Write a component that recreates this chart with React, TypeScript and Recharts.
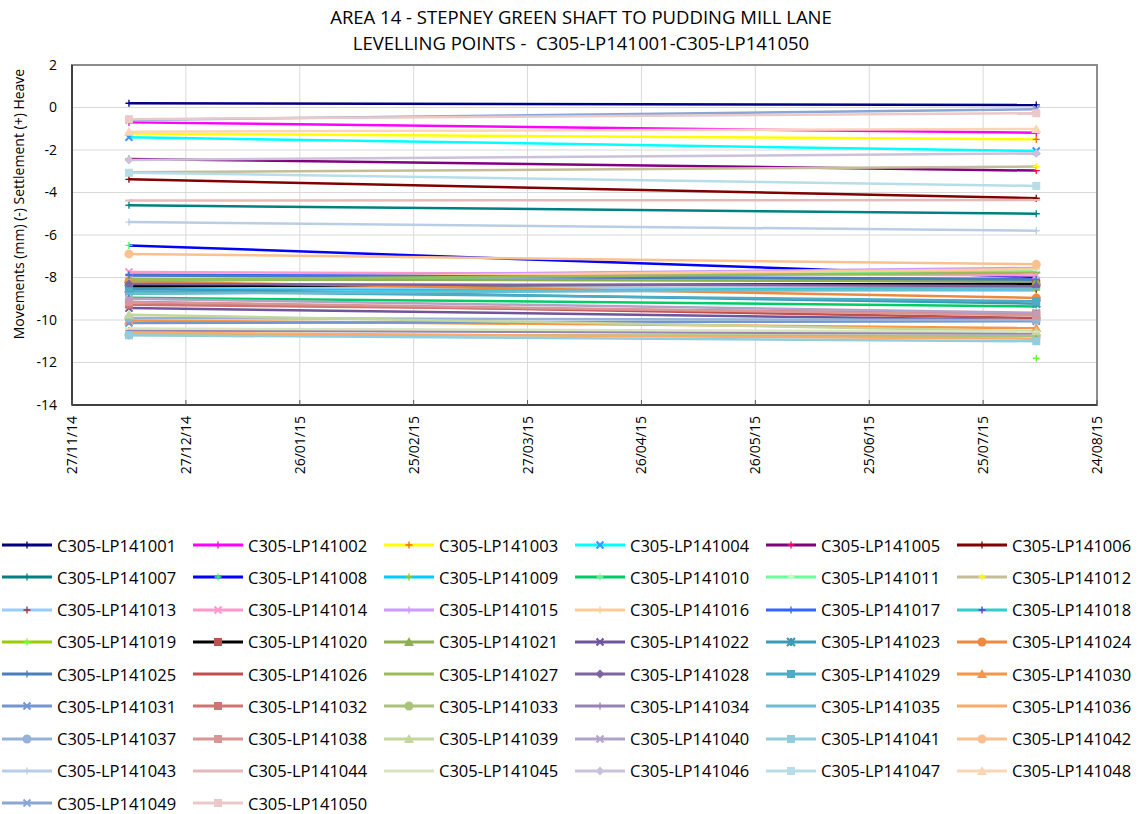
import React from 'react';
import { LineChart, Line, XAxis, YAxis, CartesianGrid, ReferenceArea, Label } from 'recharts';

// levelling point ids (legend order)
const pointNames = [
  'C305-LP141001', 'C305-LP141002', 'C305-LP141003', 'C305-LP141004', 'C305-LP141005', 'C305-LP141006',
  'C305-LP141007', 'C305-LP141008', 'C305-LP141009', 'C305-LP141010', 'C305-LP141011', 'C305-LP141012',
  'C305-LP141013', 'C305-LP141014', 'C305-LP141015', 'C305-LP141016', 'C305-LP141017', 'C305-LP141018',
  'C305-LP141019', 'C305-LP141020', 'C305-LP141021', 'C305-LP141022', 'C305-LP141023', 'C305-LP141024',
  'C305-LP141025', 'C305-LP141026', 'C305-LP141027', 'C305-LP141028', 'C305-LP141029', 'C305-LP141030',
  'C305-LP141031', 'C305-LP141032', 'C305-LP141033', 'C305-LP141034', 'C305-LP141035', 'C305-LP141036',
  'C305-LP141037', 'C305-LP141038', 'C305-LP141039', 'C305-LP141040', 'C305-LP141041', 'C305-LP141042',
  'C305-LP141043', 'C305-LP141044', 'C305-LP141045', 'C305-LP141046', 'C305-LP141047', 'C305-LP141048',
  'C305-LP141049', 'C305-LP141050',
];

// survey dates as days after 27/11/14 (12/12/14 and 08/08/15)
const surveyDays = [15, 254];

// movement (mm) at first survey
const firstReading: (number | null)[] = [
  0.2, -0.7, -1.22, -1.4, -2.42, -3.38,
  -4.6, -6.49, -8.55, -8.95, -8.2, -3.05,
  -8.45, -7.74, -7.98, -8.05, -7.87, -8.76,
  null, -8.41, -8.08, -9.44, -8.53, -8.18,
  -7.9, -9.15, -8.1, -8.3, -8.65, -10.02,
  -10.14, -9.28, -10.7, -10.49, -8.76, -10.6,
  -9.91, -9.15, -9.75, -9.0, -10.72, -6.89,
  -5.39, -4.38, -10.4, -2.47, -3.07, -1.14,
  -0.59, -0.55,
];

// movement (mm) at latest survey
const lastReading: number[] = [
  0.12, -1.19, -1.5, -2.05, -2.97, -4.27,
  -5.0, -7.98, -8.6, -9.36, -7.66, -2.78,
  -8.55, -7.9, -7.55, -7.6, -8.08, -8.45,
  -11.8, -8.29, -8.18, -10.0, -9.23, -8.96,
  -8.1, -9.91, -7.77, -8.4, -9.12, -10.38,
  -10.06, -9.7, -10.75, -10.64, -8.55, -10.88,
  -10.0, -9.78, -10.53, -9.66, -11.0, -7.38,
  -5.8, -4.35, -10.55, -2.16, -3.69, -1.01,
  -0.08, -0.27,
];

const xTicks = [0, 30, 60, 90, 120, 150, 180, 210, 240, 270];
const xTickLabels = ['27/11/14', '27/12/14', '26/01/15', '25/02/15', '27/03/15', '26/04/15', '26/05/15', '25/06/15', '25/07/15', '24/08/15'];
const yTicks = [2, 0, -2, -4, -6, -8, -10, -12, -14];

const lineColors = [
  '#000080', '#ff00ff', '#ffff00', '#00ffff', '#800080', '#800000',
  '#008080', '#0000ff', '#00ccff', '#00cc66', '#66ff99', '#c4bd97',
  '#99ccff', '#ff99cc', '#cc99ff', '#ffcc99', '#3366ff', '#33cccc',
  '#99cc00', '#000000', '#8fb050', '#6f559a', '#3d9ab5', '#ed8a40',
  '#4a7ebb', '#c0504d', '#9bbb59', '#8064a2', '#4bacc6', '#f79646',
  '#7396cf', '#d07471', '#a9c47a', '#9983b5', '#6fbcd1', '#f9ab6b',
  '#95b3d7', '#da9694', '#c3d69b', '#b3a2c7', '#93cddd', '#fac090',
  '#b9cde5', '#e6b9b8', '#d7e4bd', '#ccc1da', '#b7dee8', '#fcd5b5',
  '#8aa6d6', '#ebc9c8',
];

const markerShapes = [
  'plus', 'plus', 'plus', 'x', 'plus', 'plus',
  'plus', 'plus', 'plus', 'plus', 'plus', 'plus',
  'plus', 'x', 'plus', 'plus', 'plus', 'plus',
  'plus', 'square', 'triangle', 'x', 'star', 'circle',
  'plus', 'dash', 'dash', 'diamond', 'square', 'triangle',
  'x', 'square', 'circle', 'plus', 'dash', 'dash',
  'circle', 'square', 'triangle', 'x', 'square', 'circle',
  'plus', 'dash', 'dash', 'diamond', 'square', 'triangle',
  'x', 'square',
];

const markerColors = [
  '#000080', '#ff00ff', '#ff6600', '#3399ff', '#ff0066', '#800000',
  '#008080', '#33ff66', '#99cc00', '#66ff99', '#ccffcc', '#ffff00',
  '#993333', '#ff99cc', '#cc99ff', '#ffcc99', '#3366ff', '#6633cc',
  '#66ff33', '#c0504d', '#8fb050', '#6f559a', '#3d9ab5', '#ed8a40',
  '#4a7ebb', '#c0504d', '#9bbb59', '#8064a2', '#4bacc6', '#f79646',
  '#7396cf', '#d07471', '#a9c47a', '#9983b5', '#6fbcd1', '#f9ab6b',
  '#95b3d7', '#da9694', '#c3d69b', '#b3a2c7', '#93cddd', '#fac090',
  '#b9cde5', '#e6b9b8', '#d7e4bd', '#ccc1da', '#b7dee8', '#fcd5b5',
  '#8aa6d6', '#ebc9c8',
];

const FONT = '"Open Sans", "DejaVu Sans", sans-serif';

const tableData = surveyDays.map((day, i) => {
  const row: Record<string, number | null> = { day };
  pointNames.forEach((n, j) => { row[n] = i === 0 ? firstReading[j] : lastReading[j]; });
  return row;
});

function Marker({ cx, cy, shape, color }: { cx?: number; cy?: number; shape: string; color: string }) {
  if (cx == null || cy == null || isNaN(cx) || isNaN(cy)) return null;
  switch (shape) {
    case 'plus':
      return <path d={`M${cx - 3.5},${cy}h7M${cx},${cy - 3.5}v7`} stroke={color} strokeWidth={1.3} fill="none" />;
    case 'x':
      return <path d={`M${cx - 3.5},${cy - 3.5}l7,7M${cx - 3.5},${cy + 3.5}l7,-7`} stroke={color} strokeWidth={2} fill="none" />;
    case 'star':
      return <path d={`M${cx - 4},${cy - 4}l8,8M${cx - 4},${cy + 4}l8,-8M${cx},${cy - 4}v8`} stroke={color} strokeWidth={2.2} fill="none" />;
    case 'square':
      return <rect x={cx - 4} y={cy - 4} width={8} height={8} fill={color} />;
    case 'circle':
      return <circle cx={cx} cy={cy} r={4.5} fill={color} />;
    case 'triangle':
      return <path d={`M${cx},${cy - 5}L${cx + 5},${cy + 4}L${cx - 5},${cy + 4}Z`} fill={color} />;
    case 'diamond':
      return <path d={`M${cx},${cy - 4.5}L${cx + 4.5},${cy}L${cx},${cy + 4.5}L${cx - 4.5},${cy}Z`} fill={color} />;
    case 'dash':
      return <path d={`M${cx - 4},${cy}h8`} stroke={color} strokeWidth={2} />;
    default:
      return null;
  }
}

const DateTick = ({ x, y, payload }: any) => {
  const idx = xTicks.indexOf(payload.value);
  return (
    <g>
      <line x1={x} x2={x} y1={y} y2={y - 5} stroke="#595959" strokeWidth={1} />
      <text
        x={x}
        y={y}
        dx={-11}
        dy={5}
        transform={`rotate(-90 ${x} ${y})`}
        textAnchor="end"
        fontSize={14}
        fontFamily={FONT}
        fill="#000"
      >
        {xTickLabels[idx] ?? ''}
      </text>
    </g>
  );
};

const YTitle = ({ viewBox }: any) => {
  const cx = viewBox.x + 18;
  const cy = viewBox.y + viewBox.height / 2 - 31;
  return (
    <text x={cx} y={cy} transform={`rotate(-90 ${cx} ${cy})`} textAnchor="middle" dominantBaseline="central" fontSize={14} fontFamily={FONT} fill="#000">
      Movements (mm) (-) Settlement (+) Heave
    </text>
  );
};

function LegendItem({ i }: { i: number }) {
  return (
    <div style={{ display: 'flex', alignItems: 'center', height: 32.25 }}>
      <svg width={56} height={12} style={{ flex: 'none' }}>
        <line x1={2} x2={52} y1={6} y2={6} stroke={lineColors[i]} strokeWidth={3} />
        <Marker cx={27} cy={6} shape={markerShapes[i]} color={markerColors[i]} />
      </svg>
      <span style={{ marginLeft: 1, fontSize: 16.5, fontFamily: FONT, color: '#000', whiteSpace: 'nowrap' }}>{pointNames[i]}</span>
    </div>
  );
}

export default function App() {
  return (
    <div style={{ position: 'absolute', left: 0, top: 0, width: 1139, height: 814, background: '#fff', overflow: 'hidden' }}>
      <div style={{ position: 'absolute', left: 0, width: 1162, top: 4, textAlign: 'center', fontFamily: FONT, fontSize: 18.5, lineHeight: '26px', color: '#000' }}>
        <div>AREA 14 - STEPNEY GREEN SHAFT TO PUDDING MILL LANE</div>
        <div>LEVELLING POINTS -&nbsp; C305-LP141001-C305-LP141050</div>
      </div>
      <LineChart width={1139} height={814} data={tableData} margin={{ top: 65, right: 42, left: 0, bottom: 0 }}>
        <CartesianGrid stroke="#d9d9d9" strokeWidth={1} />
        <XAxis
          dataKey="day"
          type="number"
          domain={[0, 270]}
          ticks={xTicks}
          interval={0}
          height={409}
          tick={<DateTick />}
          tickLine={false}
          tickSize={0}
          tickMargin={0}
          axisLine={{ stroke: '#404040', strokeWidth: 2 }}
        />
        <YAxis
          type="number"
          domain={[-14, 2]}
          ticks={yTicks}
          interval={0}
          width={72}
          tickLine={false}
          tickSize={6}
          tickMargin={9}
          tick={{ fontSize: 14, fontFamily: FONT, fill: '#000' }}
          axisLine={{ stroke: '#404040', strokeWidth: 2 }}
        >
          <Label content={<YTitle />} />
        </YAxis>
        <ReferenceArea x1={0} x2={270} y1={-14} y2={2} fill="none" stroke="#8c8c8c" strokeWidth={2} ifOverflow="visible" />
        {pointNames.map((name, i) => (
          <Line
            key={name}
            dataKey={name}
            stroke={lineColors[i]}
            strokeWidth={2.5}
            isAnimationActive={false}
            connectNulls={false}
            dot={(p: any) => <Marker key={`${name}-${p.index}`} cx={p.cx} cy={p.value == null ? undefined : p.cy} shape={markerShapes[i]} color={markerColors[i]} />}
            activeDot={false}
          />
        ))}
      </LineChart>
      <div style={{ position: 'absolute', left: 0, top: 529, display: 'grid', gridTemplateColumns: 'repeat(6, 191px)' }}>
        {pointNames.map((n, i) => <LegendItem key={n} i={i} />)}
      </div>
    </div>
  );
}
